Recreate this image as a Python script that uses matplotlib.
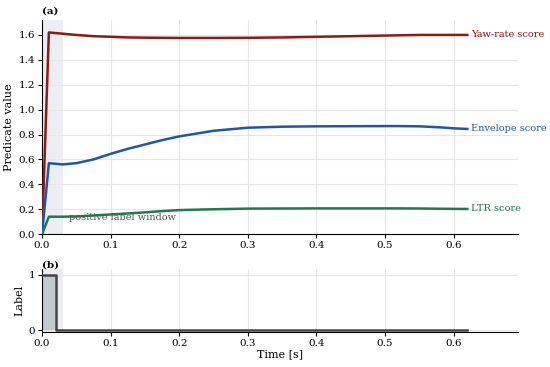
import numpy as np
import matplotlib.pyplot as plt

# ── Data ──────────────────────────────────────────────────────────────────────

t = [0.0, 0.01, 0.02, 0.03, 0.05, 0.075, 0.1, 0.125, 0.15, 0.175, 0.2, 0.25,
     0.3, 0.35, 0.4, 0.45, 0.5, 0.52, 0.55, 0.58, 0.6, 0.62]
yaw_rate = [0.0, 1.62, 1.615, 1.61, 1.60, 1.59, 1.585, 1.58, 1.578, 1.577, 1.576, 1.576,
            1.577, 1.58, 1.585, 1.59, 1.595, 1.597, 1.60, 1.60, 1.60, 1.60]
envelope = [0.0, 0.57, 0.565, 0.56, 0.57, 0.60, 0.645, 0.685, 0.72, 0.755, 0.785, 0.83,
            0.855, 0.863, 0.866, 0.867, 0.868, 0.868, 0.866, 0.858, 0.85, 0.845]
ltr = [0.0, 0.14, 0.14, 0.14, 0.142, 0.15, 0.158, 0.166, 0.175, 0.185, 0.193, 0.2,
       0.205, 0.206, 0.207, 0.207, 0.207, 0.207, 0.206, 0.204, 0.203, 0.202]

label_t = [0.0, 0.02, 0.02, 0.62]
label_v = [1, 1, 0, 0]

window = (0.0, 0.03)

series = [
    (yaw_rate, "#8b1a1a", "Yaw-rate score"),
    (envelope, "#1f57a8", "Envelope score"),
    (ltr, "#1f7a4f", "LTR score"),
]

# ── Plot ──────────────────────────────────────────────────────────────────────

plt.rcParams["font.family"] = "DejaVu Serif"

fig = plt.figure(figsize=(5.5, 3.67), dpi=100)
ax1 = fig.add_axes([0.0764, 0.362, 0.8655, 0.5835])
ax2 = fig.add_axes([0.0764, 0.096, 0.8655, 0.170])

for ax in (ax1, ax2):
    ax.axvspan(*window, color="#d5dbe6", alpha=0.45, lw=0, zorder=0)
    ax.grid(color="#e6e6e6", lw=0.8, zorder=0)
    ax.set_axisbelow(True)
    for s in ("top", "right"):
        ax.spines[s].set_visible(False)
    ax.set_xlim(0, 0.694)
    ax.set_xticks(np.arange(0, 0.61, 0.1))
    ax.tick_params(labelsize=7.5, length=3, pad=2)

for vals, color, name in series:
    ax1.plot(t, vals, color=color, lw=1.8, zorder=3)
    ax1.text(0.626, vals[-1], name, color=color, fontsize=7, va="center", ha="left")

ax1.text(0.039, 0.13, "positive label window", color="#555555", fontsize=7, va="center")
ax1.set_ylim(0, 1.72)
ax1.set_yticks(np.arange(0, 1.61, 0.2))
ax1.set_ylabel("Predicate value", fontsize=8, labelpad=3)
ax1.text(0.0, 1.02, "(a)", transform=ax1.transAxes, fontsize=7.5, fontweight="bold",
         ha="left", va="bottom")

ax2.fill_between(label_t, label_v, color="#9aa5ad", alpha=0.5, lw=0, zorder=2)
ax2.plot(label_t, label_v, color="#444444", lw=1.8, zorder=3)
ax2.set_ylim(-0.03, 1.1)
ax2.set_yticks([0, 1])
ax2.set_ylabel("Label", fontsize=8, labelpad=3)
ax2.set_xlabel("Time [s]", fontsize=8, labelpad=1)
ax2.text(0.0, 1.0, "(b)", transform=ax2.transAxes, fontsize=7.5, fontweight="bold",
         ha="left", va="bottom")

fig.savefig("out.png", dpi=100)
